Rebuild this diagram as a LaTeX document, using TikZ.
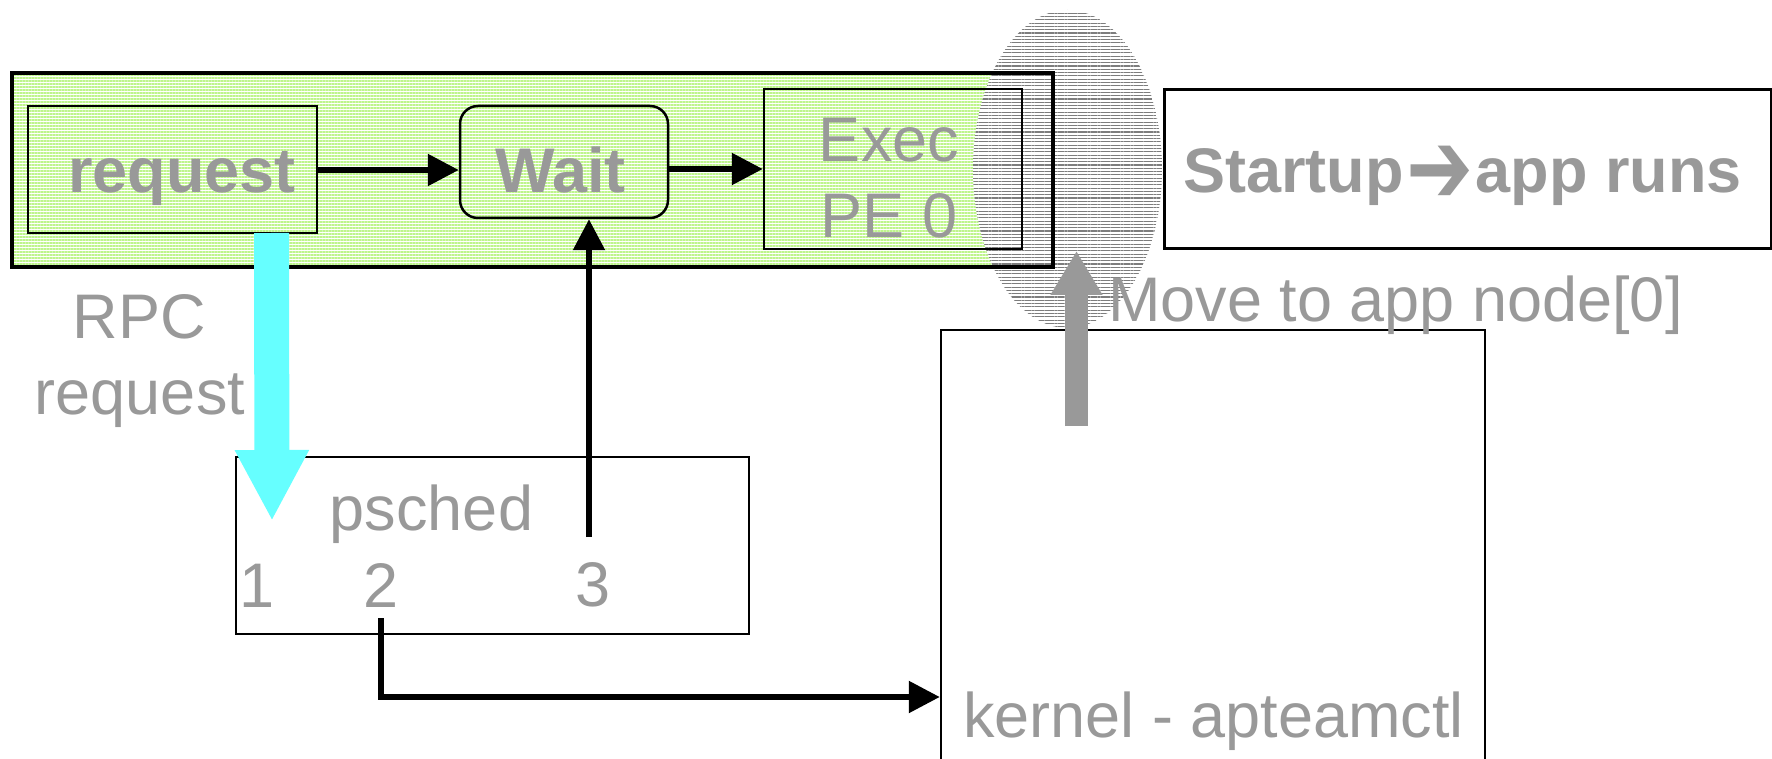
\documentclass[tikz,border=0pt]{standalone}
\usepackage{fontspec}
\setmainfont{Liberation Sans}
\newfontfamily\dingfont{DejaVu Sans}
\usetikzlibrary{arrows.meta, patterns.meta, shapes.geometric}
\definecolor{labelgray}{RGB}{153,153,153}
\definecolor{stripegreen}{RGB}{190,245,140}
\definecolor{hatchgray}{RGB}{125,125,125}
\definecolor{rpccyan}{RGB}{102,255,255}
\definecolor{movegray}{RGB}{153,153,153}

\begin{document}
\begin{tikzpicture}[x=1pt, y=-1pt,
  box/.style={draw=black, line width=2.5pt, inner sep=0pt, rectangle},
  lbl/.style={inner sep=0pt, text=labelgray, font=\fontsize{63}{76}\selectfont},
  blbl/.style={inner sep=0pt, text=labelgray, font=\fontsize{63}{76}\selectfont\bfseries},
  conn/.style={line width=5.5pt, -{Triangle[length=31pt,width=31pt]}},
]
\useasboundingbox (0,0) rectangle (1772,759);

% striped host frame
\node[inner sep=0pt, minimum width=1041pt, minimum height=194pt, fill=white,
      postaction={pattern={Lines[angle=0,distance=3pt,line width=1.5pt]}, pattern color=stripegreen}]
      (host) at (532.5,170) {};

% hatched spot around PE 0
\node[ellipse, inner sep=0pt, minimum width=189pt, minimum height=318pt, fill=white,
      postaction={pattern={Lines[angle=0,distance=3.3pt,line width=1.1pt]}, pattern color=hatchgray}]
      (spot) at (1067.5,169) {};

\draw[line width=4pt] (host.north west) rectangle (host.south east);

% boxes
\node[box, minimum width=289pt, minimum height=127pt] (request) at (172.5,169.5) {};
\node[box, rounded corners=18pt, minimum width=208pt, minimum height=112pt] (wait) at (564,162) {};
\node[box, minimum width=258pt, minimum height=160pt] (exec) at (893,169) {};
\node[box, line width=3pt, minimum width=607pt, minimum height=159pt] (startup) at (1467.5,169.5) {};
\node[box, line width=2pt, minimum width=513pt, minimum height=177pt] (psched) at (492.5,545.5) {};
\node[box, minimum width=544pt, minimum height=470pt] (kernel) at (1213,565) {};

% connectors
\draw[conn] (request.east |- 0,170) -- (wait.west |- 0,170);
\draw[conn] (wait.east |- exec.west) -- (exec.west);

\coordinate (p3) at (589,537);
\draw[conn] (p3) -- (p3 |- wait.south);

\coordinate (p2) at (381,618);
\coordinate (p2turn) at (381,697);
\draw[line width=5.5pt, -{Triangle[length=31pt,width=31pt]}] (p2) -- (p2turn) -- (p2turn -| kernel.west);

\coordinate (rpctop) at (271.5,233);
\coordinate (rpctip) at (272,521);
\draw[rpccyan, line width=35pt, -{Triangle[length=71pt,width=69pt]}] (rpctop) -- (rpctip);

\coordinate (movebase) at (1076.5,426);
\coordinate (movetip) at (1076.5,251);
\draw[movegray, line width=23pt, -{Triangle[length=44pt,width=49pt]}] (movebase) -- (movetip);

% labels
\node[blbl, anchor=base] (treq) at (182,193) {request};
\node[blbl, anchor=base] (twait) at (560.5,193) {Wait};
\node[lbl, anchor=base] (texec) at (889,162) {Exec};
\node[lbl, anchor=base] (tpe) at (889,238) {PE 0};
\node[blbl, anchor=base west] (tstart) at (1183,193)
  {Startup\makebox[72pt][c]{\raisebox{-11pt}{\scalebox{0.8}[1.04]{\dingfont\bfseries\fontsize{100}{76}\selectfont ➔}}}app runs};
\node[lbl, anchor=base west] (tmove) at (1108,322) {Move to app node[0]};
\node[lbl, anchor=base] (trpc) at (139.5,338) {RPC};
\node[lbl, anchor=base] (trpcreq) at (140,414) {request};
\node[lbl, anchor=base] (tpsched) at (431.5,530) {psched};
\node[lbl, anchor=base] (tone) at (257,607) {1};
\node[lbl, anchor=base] (ttwo) at (381,607) {2};
\node[lbl, anchor=base] (tthree) at (593.5,606) {3};
\node[lbl, anchor=base west] (tkernel) at (963,737) {kernel - apteamctl};
\end{tikzpicture}
\end{document}
